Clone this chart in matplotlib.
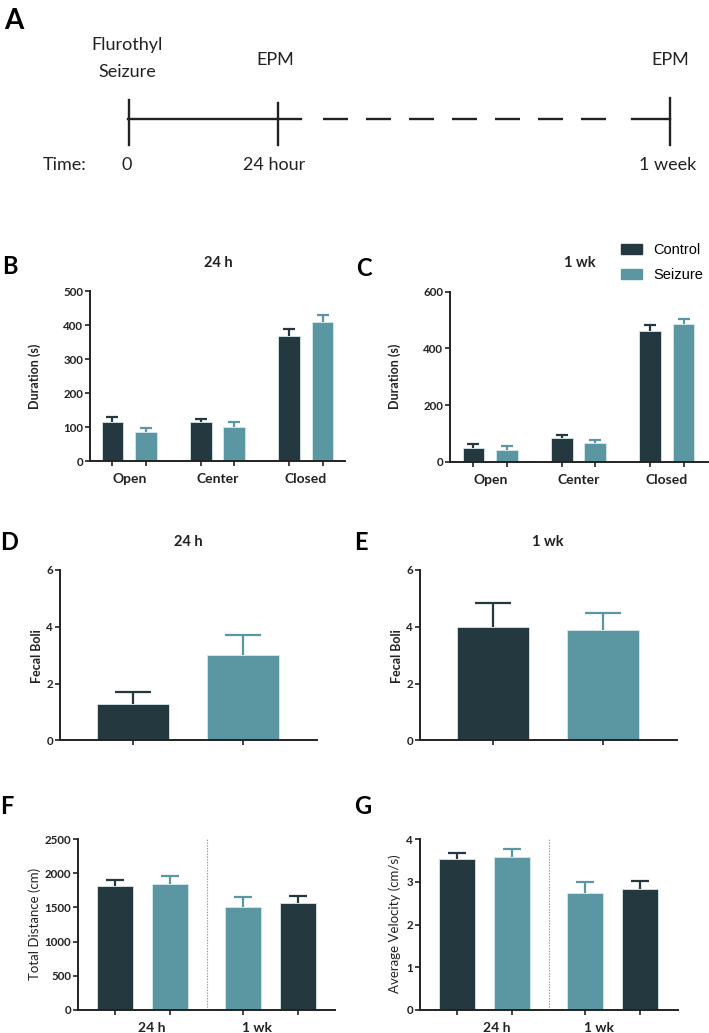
import matplotlib
matplotlib.use("Agg")
import matplotlib.pyplot as plt
from matplotlib.patches import Patch

plt.rcParams['font.family'] = ['Lato', 'DejaVu Sans']
plt.rcParams['lines.scale_dashes'] = False

DARK = '#24383f'
TEAL = '#5b97a2'
EDGE = '#d6e8eb'

# B / C : EPM arm durations
arms = ['Open', 'Center', 'Closed']
b_ctrl = [115, 115, 368]
b_ctrl_sem = [15, 8, 19]
b_seiz = [86, 101, 408]
b_seiz_sem = [12, 13, 21]
c_ctrl = [50, 85, 462]
c_ctrl_sem = [12, 11, 21]
c_seiz = [42, 66, 485]
c_seiz_sem = [14, 12, 19]

# D / E : fecal boli
d_vals = [1.29, 3.0]
d_sem = [0.42, 0.70]
e_vals = [3.98, 3.88]
e_sem = [0.86, 0.62]

# F / G : locomotion (24 h pair, 1 wk pair)
times = ['24 h', '1 wk']
f_vals = [1815, 1840, 1511, 1565]
f_sem = [88, 126, 142, 103]
g_vals = [3.54, 3.58, 2.73, 2.83]
g_sem = [0.15, 0.20, 0.26, 0.20]
fg_colors = [DARK, TEAL, TEAL, DARK]

W, H = 709, 1033
fig = plt.figure(figsize=(W / 100, H / 100), dpi=100)


def px_axes(l, t, r, b):
    return fig.add_axes([l / W, 1 - b / H, (r - l) / W, (b - t) / H])


def ftext(x, y, s, **kw):
    fig.text(x / W, 1 - y / H, s, **kw)


def style(ax, yticks, ylim):
    for s in ['top', 'right']:
        ax.spines[s].set_visible(False)
    for s in ['left', 'bottom']:
        ax.spines[s].set_linewidth(1.4)
        ax.spines[s].set_color('#222222')
    ax.set_ylim(*ylim)
    ax.set_yticks(yticks)
    ax.tick_params(axis='both', which='major', length=3.5, width=1.2, color='#222222',
                   labelsize=8.3, pad=1.5)
    for lab in ax.get_yticklabels():
        lab.set_fontweight('bold')
        lab.set_color('#222222')


def bars(ax, x, vals, sem, colors, width, capsize):
    ax.bar(x, vals, width=width, color=colors, edgecolor=EDGE, linewidth=0.6, zorder=2)
    for xi, v, s, c in zip(x, vals, sem, colors):
        eb = ax.errorbar(xi, v, yerr=[[0], [s]], fmt='none', ecolor=c, elinewidth=1.6,
                         capsize=capsize, capthick=1.6, zorder=1)
        eb[1][0].set_visible(False)


def group_labels(ax, centers, labels, size, pad):
    ax.set_xticks(centers, minor=True)
    ax.set_xticklabels(labels, minor=True, fontsize=size, fontweight='bold', color='#222222')
    ax.tick_params(axis='x', which='minor', length=0, pad=pad)


# ---- panel A: timeline ----
ax0 = fig.add_axes([0, 0, 1, 1], zorder=-1)
ax0.set_xlim(0, W)
ax0.set_ylim(H, 0)
ax0.axis('off')
lw = 1.7
ax0.plot([128, 301], [119, 119], color='#222222', lw=lw)
ax0.plot([323, 607], [119, 119], color='#222222', lw=lw, dashes=(25 * 0.72, 18 * 0.72))
ax0.plot([632, 670], [119, 119], color='#222222', lw=lw)
ax0.plot([129, 129], [100, 145], color='#222222', lw=lw)
ax0.plot([278, 278], [103, 145], color='#222222', lw=lw)
ax0.plot([670, 670], [98, 145], color='#222222', lw=lw)
tk = dict(fontsize=13, color='#222222', ha='center', va='center')
ftext(127, 45, 'Flurothyl', **tk)
ftext(127, 72, 'Seizure', **tk)
ftext(275, 60, 'EPM', **tk)
ftext(670, 60, 'EPM', **tk)
ftext(65, 165, 'Time:', **tk)
ftext(127, 165, '0', **tk)
ftext(274, 165, '24 hour', **tk)
ftext(668, 165, '1 week', **tk)

letter = dict(fontsize=17, fontweight='bold', color='black', ha='left', va='center')
ftext(4, 21, 'A', fontsize=20, fontweight='bold', color='black', ha='left', va='center')
ftext(2, 266, 'B', **letter)
ftext(356, 268, 'C', **letter)
ftext(0, 542, 'D', **letter)
ftext(354, 543, 'E', **letter)
ftext(0, 807, 'F', **letter)
ftext(354, 807, 'G', **letter)

title = dict(fontsize=10.5, fontweight='bold', color='#222222', ha='center', va='center')
ylab = dict(fontsize=9, color='#222222', ha='center', va='center', rotation=90)

# ---- panel B / C ----
xc = [0, 2.63, 5.26]
xs = [x + 1 for x in xc]
mid = [x + 0.5 for x in xc]
for box, ctrl, cs, seiz, ss, yt, yl, xl, ttl, tx, lx in [
        ((90, 291, 345, 461), b_ctrl, b_ctrl_sem, b_seiz, b_seiz_sem,
         [0, 100, 200, 300, 400, 500], (0, 500), (-0.67, 6.93), '24 h', 218, 35),
        ((450, 291.7, 708, 462), c_ctrl, c_ctrl_sem, c_seiz, c_seiz_sem,
         [0, 200, 400, 600], (0, 600), (-0.70, 6.99), '1 wk', 580, 395)]:
    ax = px_axes(*box)
    bars(ax, xc, ctrl, cs, [DARK] * 3, 0.65, 4.3)
    bars(ax, xs, seiz, ss, [TEAL] * 3, 0.65, 4.3)
    style(ax, yt, yl)
    ax.set_xlim(*xl)
    ax.set_xticks(xc + xs)
    ax.set_xticklabels([])
    group_labels(ax, mid, arms, 10, 8.5)
    ftext(tx, 263, ttl, **title)
    ftext(lx, 376, 'Duration (s)', fontweight='bold', **ylab)

fig.legend(handles=[Patch(color=DARK), Patch(color=TEAL)], labels=['Control', 'Seizure'],
           loc='upper left', bbox_to_anchor=(621 / W, 1 - 243 / H), frameon=False,
           prop={'family': 'Liberation Sans', 'size': 10.5}, handlelength=1.45,
           handleheight=0.75, handletextpad=0.75, labelspacing=0.75,
           borderpad=0, borderaxespad=0)

# ---- panel D / E ----
for box, vals, sem, ttl, tx, lx in [((60, 570, 317, 740.4), d_vals, d_sem, '24 h', 188, 37),
                                     ((420, 570, 677, 740.4), e_vals, e_sem, '1 wk', 548, 397)]:
    ax = px_axes(*box)
    bars(ax, [0, 1], vals, sem, [DARK, TEAL], 0.655, 13)
    style(ax, [0, 2, 4, 6], (0, 6))
    ax.set_xlim(-0.664, 1.673)
    ax.set_xticks([0, 1])
    ax.set_xticklabels([])
    ftext(tx, 542, ttl, **title)
    ftext(lx, 656, 'Fecal Boli', fontweight='bold', **ylab)

# ---- panel F / G ----
xfg = [0, 1, 2.33, 3.33]
for box, vals, sem, yt, yl, xr, lbl_x, lab, lx in [
        ((78, 839.3, 335, 1009.7), f_vals, f_sem, [0, 500, 1000, 1500, 2000, 2500],
         (0, 2500), 4.0, [0.67, 2.58], 'Total Distance (cm)', 35),
        ((420, 839.3, 678, 1009.7), g_vals, g_sem, [0, 1, 2, 3, 4],
         (0, 4), 4.02, [0.73, 2.58], 'Average Velocity (cm/s)', 395)]:
    ax = px_axes(*box)
    bars(ax, xfg, vals, sem, fg_colors, 0.655, 6.5)
    style(ax, yt, yl)
    ax.set_xlim(-0.673, xr)
    ax.axvline(1.67, color='#999999', lw=0.8, ls=(0, (1, 1)), zorder=0)
    ax.set_xticks(xfg)
    ax.set_xticklabels([])
    group_labels(ax, lbl_x, times, 10, 8.5)
    ftext(lx, 924, lab, fontsize=9.5, color='#222222', ha='center', va='center', rotation=90)

fig.savefig('out.png', dpi=100)
